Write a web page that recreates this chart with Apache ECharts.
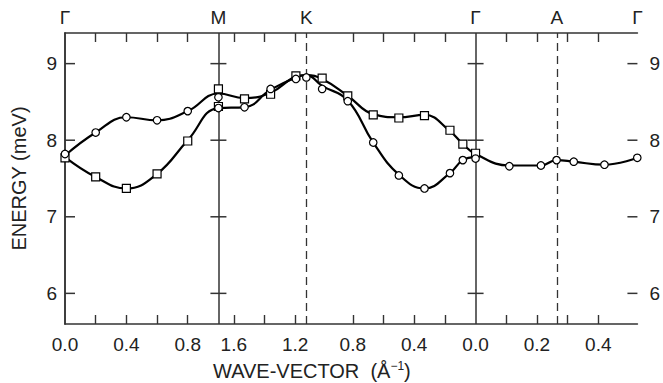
<!DOCTYPE html>
<html><head><meta charset="utf-8">
<script src="https://cdn.jsdelivr.net/npm/echarts@6/dist/echarts.min.js"></script>
<style>html,body{margin:0;padding:0;background:#fff}#c{width:663px;height:383px}</style>
</head><body><div id="c"></div>
<script>
// ================= DATA =================
const symLabels = ['Γ', 'M', 'K', 'Γ', 'A', 'Γ'];
const symSeg    = ['GM', 'GM', 'KG', 'KG', 'GA', 'GA'];
const symQ      = [0, 1.0, 1.103, 0, 0.265, 0.5275];

const yTicks = [6, 7, 8, 9];

const ticksGM  = [0.2, 0.4, 0.6, 0.8];
const labelsGM = [0.0, 0.4, 0.8];
const ticksMK  = [1.6, 1.4, 1.2];
const labelsMK = [1.6, 1.2];
const ticksKG  = [0.8, 0.6, 0.4, 0.2];
const labelsKG = [0.8, 0.4, 0.0];
const ticksGA  = [0.1, 0.2, 0.3, 0.4];
const labelsGA = [0.2, 0.4];

const circGM_q = [0, 0.2, 0.4, 0.6, 0.8, 1.0, 1.0];
const circGM_E = [7.82, 8.10, 8.30, 8.26, 8.38, 8.56, 8.42];
const circMK_q = [1.53, 1.36, 1.195, 1.127];
const circMK_E = [8.43, 8.67, 8.80, 8.82];
const circKG_q = [1.0, 0.833, 0.667, 0.5, 0.333, 0.167, 0.083, 0];
const circKG_E = [8.67, 8.51, 7.97, 7.54, 7.37, 7.57, 7.74, 7.76];
const circGA_q = [0.11, 0.213, 0.264, 0.32, 0.42, 0.527];
const circGA_E = [7.66, 7.67, 7.74, 7.72, 7.68, 7.77];

const sqGM_q = [0, 0.2, 0.4, 0.6, 0.8, 1.0, 1.0];
const sqGM_E = [7.77, 7.52, 7.37, 7.56, 7.99, 8.67, 8.44];
const sqMK_q = [1.53, 1.36, 1.195];
const sqMK_E = [8.54, 8.60, 8.84];
const sqKG_q = [1.0, 0.833, 0.667, 0.5, 0.333, 0.167, 0.083, 0];
const sqKG_E = [8.81, 8.58, 8.33, 8.29, 8.32, 8.13, 7.95, 7.83];

const curveGM_q = [0, 0.2, 0.4, 0.6, 0.8, 1.0];
const curveMK_q = [1.53, 1.36, 1.195, 1.127];
const curveKG_q = [1.0, 0.833, 0.667, 0.5, 0.333, 0.167, 0.083, 0];
const curveGA_q = [0.11, 0.213, 0.264, 0.32, 0.42, 0.527];
const curve1GM_E = [7.80, 8.10, 8.30, 8.26, 8.38, 8.61];
const curve1MK_E = [8.55, 8.62, 8.83, 8.85];
const curve1KG_E = [8.80, 8.58, 8.34, 8.30, 8.33, 8.12, 7.95, 7.82];
const curve1GA_E = [7.67, 7.67, 7.74, 7.72, 7.68, 7.77];
const curve2GM_E = [7.78, 7.52, 7.37, 7.56, 8.00, 8.42];
const curve2MK_E = [8.43, 8.66, 8.82, 8.85];
const curve2KG_E = [8.71, 8.52, 7.97, 7.55, 7.37, 7.57, 7.74, 7.78];

// ================= LAYOUT =================
const segMap = {
  GM: q => q,
  MK: q => 2.7 - q,
  KG: q => 2.676 - q,
  GA: q => 2.676 + 2 * q
};
const X_MAX = segMap.GA(0.5275);
const key = v => (+v).toFixed(4);
const FONT = "'Liberation Sans', Arial, sans-serif";
const INK = '#222';
const FRAME = '#333';
const Y_MIN = 5.6, Y_MAX = 9.4;
const TICK_LEN = 10, CROSS_HALF = 8;

function pts(seg, qs, es) { return qs.map((q, i) => [segMap[seg](q), es[i]]); }

const tickPos = [].concat(
  ticksGM.map(segMap.GM), ticksMK.map(segMap.MK), ticksKG.map(segMap.KG), ticksGA.map(segMap.GA));
const bottomLabelMap = {};
labelsGM.forEach(v => bottomLabelMap[key(segMap.GM(v))] = v.toFixed(1));
labelsMK.forEach(v => bottomLabelMap[key(segMap.MK(v))] = v.toFixed(1));
labelsKG.forEach(v => bottomLabelMap[key(segMap.KG(v))] = v.toFixed(1));
labelsGA.forEach(v => bottomLabelMap[key(segMap.GA(v))] = v.toFixed(1));
const bottomLabelPos = Object.keys(bottomLabelMap).map(Number);

const symPos = symQ.map((q, i) => segMap[symSeg[i]](q));
const topLabelMap = {};
symPos.forEach((p, i) => topLabelMap[key(p)] = symLabels[i]);

const circles = [].concat(pts('GM', circGM_q, circGM_E), pts('MK', circMK_q, circMK_E),
                          pts('KG', circKG_q, circKG_E), pts('GA', circGA_q, circGA_E));
const squares = [].concat(pts('GM', sqGM_q, sqGM_E), pts('MK', sqMK_q, sqMK_E), pts('KG', sqKG_q, sqKG_E));
const curve1 = [].concat(pts('GM', curveGM_q, curve1GM_E), pts('MK', curveMK_q, curve1MK_E),
                         pts('KG', curveKG_q, curve1KG_E), pts('GA', curveGA_q, curve1GA_E));
const curve2 = [].concat(pts('GM', curveGM_q, curve2GM_E), pts('MK', curveMK_q, curve2MK_E),
                         pts('KG', curveKG_q, curve2KG_E));

// energy ticks: inward on the frame, crosses on the solid M and Γ lines
// [x, energy, direction]  (+1 right, -1 left, 0 both)
const energyTicks = [];
yTicks.forEach(y => {
  energyTicks.push([0, y, 1]);
  energyTicks.push([X_MAX, y, -1]);
  energyTicks.push([symPos[1], y, 0]);
  energyTicks.push([symPos[3], y, 0]);
});

const chart = echarts.init(document.getElementById('c'), null, { renderer: 'svg' });

function yAxisCfg(position, margin, extra) {
  return Object.assign({
    type: 'value', min: Y_MIN, max: Y_MAX, position: position,
    splitLine: { show: false },
    axisLine: { show: true, lineStyle: { color: FRAME, width: 1.5 } },
    axisTick: { show: false },
    axisLabel: { show: true, customValues: yTicks.slice(), margin: margin,
                 color: INK, fontSize: 19, fontFamily: FONT }
  }, extra || {});
}
function xAxisCfg(position, labelValues, labelMap, margin) {
  return {
    type: 'value', min: 0, max: X_MAX, position: position,
    splitLine: { show: false },
    axisLine: { show: true, lineStyle: { color: FRAME, width: 1.5 } },
    axisTick: { show: true, inside: true, length: 9, customValues: tickPos.slice(),
                lineStyle: { color: FRAME, width: 1.4 } },
    axisLabel: {
      customValues: labelValues.slice(), margin: margin, color: INK, fontSize: 19, fontFamily: FONT,
      showMinLabel: true, showMaxLabel: true, hideOverlap: false,
      formatter: v => labelMap[key(v)] || ''
    }
  };
}

const option = {
  animation: false,
  backgroundColor: '#fff',
  grid: { left: 65, right: 21, top: 33, bottom: 59, show: false },
  title: {
    text: '{a|WAVE-VECTOR  (Å}{s|−1}{a|)}',
    left: 208, top: 355,
    textStyle: {
      fontWeight: 'normal',
      rich: {
        a: { fontSize: 20, fontFamily: FONT, color: INK, fontWeight: 'normal' },
        s: { fontSize: 12, fontFamily: FONT, color: INK, fontWeight: 'normal', padding: [0, 0, 9, 0] }
      }
    }
  },
  xAxis: [
    xAxisCfg('bottom', bottomLabelPos, bottomLabelMap, 11),
    xAxisCfg('top', symPos, topLabelMap, 6)
  ],
  yAxis: [
    yAxisCfg('left', 8, {
      name: 'ENERGY (meV)', nameLocation: 'middle', nameGap: 36,
      nameTextStyle: { color: INK, fontSize: 20, fontFamily: FONT }
    }),
    yAxisCfg('right', 12)
  ],
  series: [
    {
      type: 'line', data: curve2, smooth: 0.45, showSymbol: false, silent: true,
      lineStyle: { color: '#000', width: 2.2 }, z: 3
    },
    {
      type: 'line', data: curve1, smooth: 0.45, showSymbol: false, silent: true,
      lineStyle: { color: '#000', width: 2.2 }, z: 3,
      markLine: {
        silent: true, symbol: ['none', 'none'], label: { show: false },
        data: [
          { xAxis: symPos[1], lineStyle: { type: 'solid', color: FRAME, width: 1.5 } },
          { xAxis: symPos[3], lineStyle: { type: 'solid', color: FRAME, width: 1.5 } },
          { xAxis: symPos[2], lineStyle: { type: [8, 5], color: FRAME, width: 1.3 } },
          { xAxis: symPos[4], lineStyle: { type: [8, 5], color: FRAME, width: 1.3 } }
        ]
      }
    },
    {
      type: 'custom', data: energyTicks, silent: true, z: 4, clip: false,
      encode: { x: 0, y: 1 },
      renderItem: function (params, api) {
        const p = api.coord([api.value(0), api.value(1)]);
        const d = api.value(2);
        const x1 = d === 0 ? p[0] - CROSS_HALF : p[0];
        const x2 = d === 0 ? p[0] + CROSS_HALF : p[0] + d * TICK_LEN;
        return {
          type: 'line',
          shape: { x1: x1, y1: p[1], x2: x2, y2: p[1] },
          style: { stroke: FRAME, lineWidth: 1.5 }
        };
      }
    },
    {
      type: 'scatter', data: squares, symbol: 'rect', symbolSize: 8, z: 5,
      itemStyle: { color: '#fff', opacity: 1, borderColor: '#000', borderWidth: 1.2 }
    },
    {
      type: 'scatter', data: circles, symbol: 'circle', symbolSize: 7.5, z: 6,
      itemStyle: { color: '#fff', opacity: 1, borderColor: '#000', borderWidth: 1.2 }
    }
  ]
};

chart.setOption(option);
</script>
</body></html>
